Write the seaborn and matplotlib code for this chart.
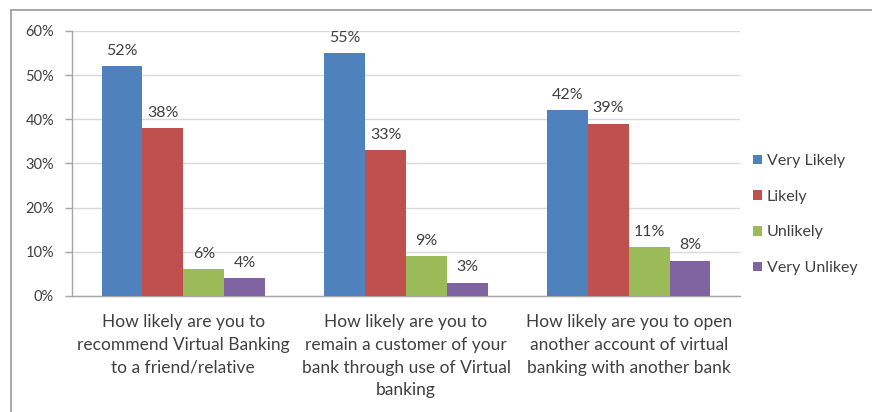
import matplotlib
matplotlib.use("Agg")
import matplotlib.pyplot as plt
from matplotlib.lines import Line2D
import seaborn as sns
import pandas as pd

questions = [
    "How likely are you to\nrecommend Virtual Banking\nto a friend/relative",
    "How likely are you to\nremain a customer of your\nbank through use of Virtual\nbanking",
    "How likely are you to open\nanother account of virtual\nbanking with another bank",
]
responses = ["Very Likely", "Likely", "Unlikely", "Very Unlikey"]
very_likely = [52, 55, 42]
likely = [38, 33, 39]
unlikely = [6, 9, 11]
very_unlikely = [4, 3, 8]
y_ticks = [0, 10, 20, 30, 40, 50, 60]
palette = ["#4F81BD", "#C0504D", "#9BBB59", "#8064A2"]

rows = []
for resp, vals in zip(responses, [very_likely, likely, unlikely, very_unlikely]):
    for q, v in zip(questions, vals):
        rows.append({"question": q, "response": resp, "pct": v})
df = pd.DataFrame(rows)

sns.set_style("white")
plt.rcParams["font.family"] = ["Lato", "DejaVu Sans"]
text_color = "#404040"

fig = plt.figure(figsize=(8.72, 4.12), dpi=100)
ax = fig.add_axes([0.0826, 0.2816, 0.7660, 0.6432])

sns.barplot(data=df, x="question", y="pct", hue="response", order=questions,
            hue_order=responses, palette=palette, width=0.735, gap=0,
            saturation=1, edgecolor="none", ax=ax, zorder=3)

for container in ax.containers:
    ax.bar_label(container, labels=[f"{v:.0f}%" for v in container.datavalues],
                 padding=6, fontsize=11.5, color=text_color)

ax.set_ylim(0, 60)
ax.set_xlim(-0.5, 2.5)
ax.set_yticks(y_ticks)
ax.set_yticklabels([f"{t}%" for t in y_ticks], fontsize=10.5, color=text_color)
ax.yaxis.grid(True, color="#d9d9d9", linewidth=1, zorder=0)
ax.set_axisbelow(True)
ax.set_xlabel("")
ax.set_ylabel("")

ax.set_xticks([])
ax.set_xticks([-0.5, 0.5, 1.5, 2.5], minor=True)
ax.tick_params(axis="x", which="minor", length=5, color="#a6a6a6", width=1)
ax.tick_params(axis="y", length=5, color="#a6a6a6", width=1, pad=8, left=True)
for i, q in enumerate(questions):
    ax.text(i, -4.1, q, ha="center", va="top", fontsize=12.5, color=text_color,
            linespacing=1.52, transform=ax.transData)

for side in ["top", "right"]:
    ax.spines[side].set_visible(False)
for side in ["left", "bottom"]:
    ax.spines[side].set_color("#a6a6a6")
    ax.spines[side].set_linewidth(1)

leg = ax.legend(loc="center left", bbox_to_anchor=(1.01, 0.307), frameon=False,
                fontsize=11.5, handlelength=0.55, handleheight=0.55, handletextpad=0.3,
                labelspacing=1.35, borderaxespad=0)
for t in leg.get_texts():
    t.set_color(text_color)

# chart frame: top and left edges
frame_x, frame_y = 10.5 / 872, 1 - 9.5 / 412
fig.lines.append(Line2D([frame_x, 1], [frame_y, frame_y], transform=fig.transFigure,
                        color="#a0a0a0", linewidth=1.3))
fig.lines.append(Line2D([frame_x, frame_x], [0, frame_y], transform=fig.transFigure,
                        color="#a0a0a0", linewidth=1.3))

fig.savefig("out.png", dpi=100)
